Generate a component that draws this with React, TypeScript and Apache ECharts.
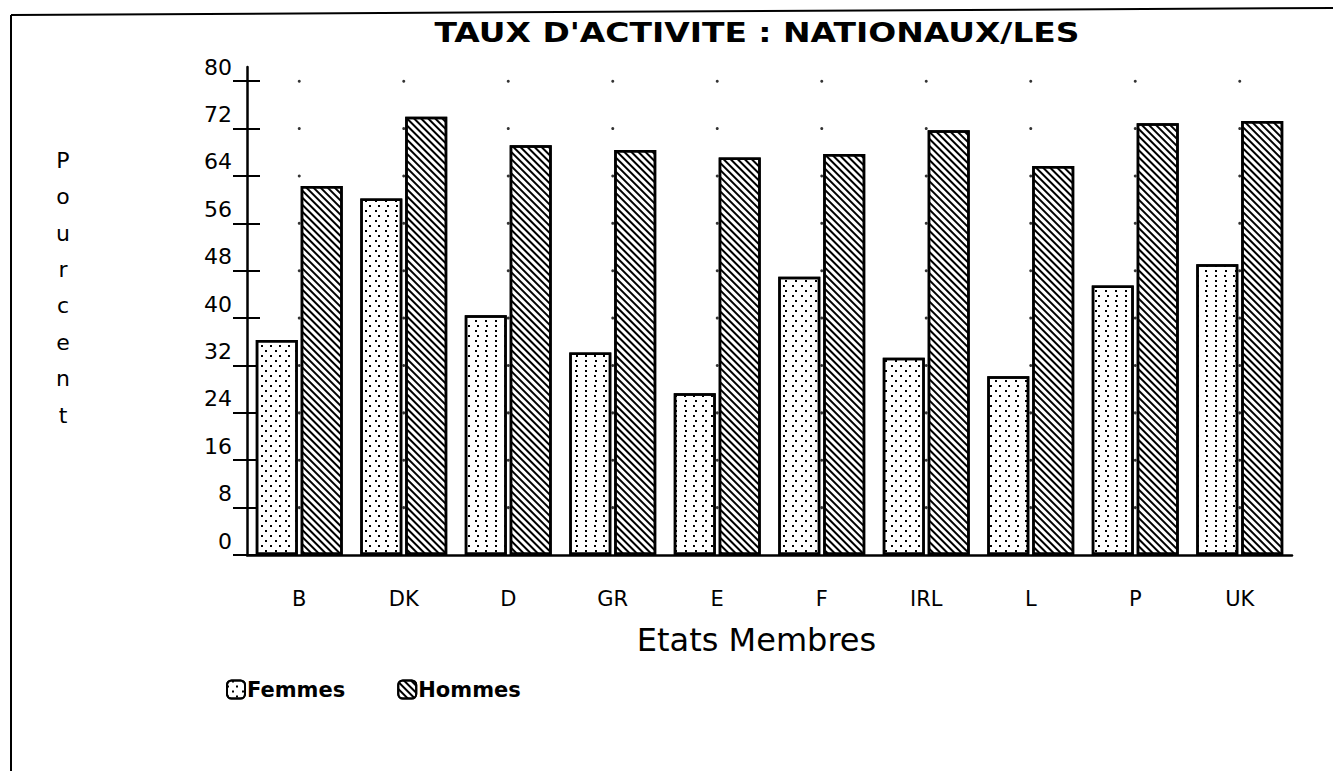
import React, { useEffect, useRef } from "react";
import * as echarts from "echarts";

const categories = ["B", "DK", "D", "GR", "E", "F", "IRL", "L", "P", "UK"];
const femmes = [36.3, 60.2, 40.5, 34.2, 27.3, 47.0, 33.3, 30.2, 45.5, 49.1];
const hommes = [62.3, 74.0, 69.2, 68.4, 67.1, 67.7, 71.7, 65.7, 72.9, 73.3];
const yTicks = [0, 8, 16, 24, 32, 40, 48, 56, 64, 72, 80];
const seriesNames = ["Femmes", "Hommes"];
const titleText = "TAUX D'ACTIVITE : NATIONAUX/LES";
const xAxisName = "Etats Membres";
const yAxisName = "Pourcent";

const FONT = "DejaVu Sans";

export default function App() {
  const ref = useRef<HTMLDivElement>(null);

  useEffect(() => {
    if (!ref.current) return;
    const chart = echarts.init(ref.current, null, { renderer: "svg" });

    const gridDots: [string, number][] = [];
    categories.forEach((c) => {
      yTicks.filter((v) => v > 0).forEach((v) => gridDots.push([c, v]));
    });

    const axisMax = 82.4;
    const black = "#000";

    const option: any = {
      animation: false,
      backgroundColor: "#fff",
      legend: {
        data: seriesNames,
        left: 221,
        top: 674,
        itemWidth: 18,
        itemHeight: 18,
        itemGap: 52,
        textStyle: {
          fontFamily: FONT,
          fontWeight: "bold",
          fontSize: 21,
          color: black,
          padding: [0, 0, 0, -3],
        },
      },
      grid: { left: 247, right: 41, top: 67, bottom: 216 },
      xAxis: {
        type: "category",
        data: categories,
        axisLine: { lineStyle: { color: black, width: 2.5 } },
        axisTick: {
          alignWithLabel: true,
          length: 14,
          lineStyle: { color: black, width: 2 },
        },
        axisLabel: {
          margin: 33,
          fontSize: 21,
          color: black,
          fontFamily: FONT,
        },
        name: xAxisName,
        nameLocation: "middle",
        nameGap: 69,
        nameTextStyle: {
          fontSize: 32,
          color: black,
          fontFamily: FONT,
          padding: [0, 26, 0, 0],
        },
      },
      yAxis: [
        {
          type: "value",
          min: 0,
          max: axisMax,
          axisLine: { show: true, lineStyle: { color: black, width: 2.5 } },
          axisTick: {
            show: true,
            length: 14,
            customValues: yTicks,
            lineStyle: { color: black, width: 2 },
          },
          axisLabel: {
            customValues: yTicks,
            margin: 15,
            verticalAlign: "bottom",
            padding: [0, 0, 3, 0],
            fontSize: 22,
            color: black,
            fontFamily: FONT,
          },
          splitLine: { show: false },
        },
        {
          type: "value",
          min: 0,
          max: axisMax,
          position: "left",
          axisLine: { show: false },
          axisTick: {
            show: true,
            inside: true,
            length: 13,
            customValues: yTicks,
            lineStyle: { color: black, width: 2 },
          },
          axisLabel: { show: false },
          splitLine: { show: false },
        },
      ],
      series: [
        {
          type: "scatter",
          name: "grid",
          data: gridDots,
          symbol: "circle",
          symbolSize: 3,
          itemStyle: { color: black },
          silent: true,
          z: 1,
        },
        {
          type: "bar",
          name: seriesNames[0],
          data: femmes,
          barWidth: 42,
          barGap: "7%",
          z: 3,
          itemStyle: {
            color: "#fff",
            borderColor: black,
            borderWidth: 2.5,
            decal: {
              symbol: "rect",
              symbolSize: 1,
              dashArrayX: [
                [2, 7],
                [0, 4.5, 2, 2.5],
              ],
              dashArrayY: [2, 3],
              color: black,
            },
          },
        },
        {
          type: "bar",
          name: seriesNames[1],
          data: hommes,
          barWidth: 42,
          z: 3,
          itemStyle: {
            color: "#fff",
            borderColor: black,
            borderWidth: 2.5,
            decal: {
              symbol: "rect",
              symbolSize: 1,
              dashArrayX: [1, 0],
              dashArrayY: [1.9, 2.6],
              rotation: Math.PI / 4,
              color: black,
            },
          },
        },
      ],
      graphic: [
        {
          type: "line",
          shape: { x1: 11, y1: 15, x2: 11, y2: 771 },
          style: { stroke: black, lineWidth: 2 },
        },
        {
          type: "line",
          shape: { x1: 11, y1: 15, x2: 1333, y2: 8 },
          style: { stroke: black, lineWidth: 2 },
        },
        {
          type: "text",
          x: 757,
          y: 33,
          scaleX: 1.22,
          style: {
            text: titleText,
            fontFamily: FONT,
            fontWeight: "bold",
            fontSize: 27,
            fill: black,
            align: "center",
            verticalAlign: "middle",
          },
        },
        {
          type: "text",
          x: 63,
          y: 142,
          style: {
            text: yAxisName.split("").join("\n"),
            fontFamily: FONT,
            fontSize: 22,
            lineHeight: 36.4,
            fill: black,
            align: "center",
            verticalAlign: "top",
          },
        },
      ],
    };

    chart.setOption(option);
    return () => chart.dispose();
  }, []);

  return (
    <div
      ref={ref}
      style={{ position: "fixed", left: 0, top: 0, width: 1333, height: 771 }}
    />
  );
}
